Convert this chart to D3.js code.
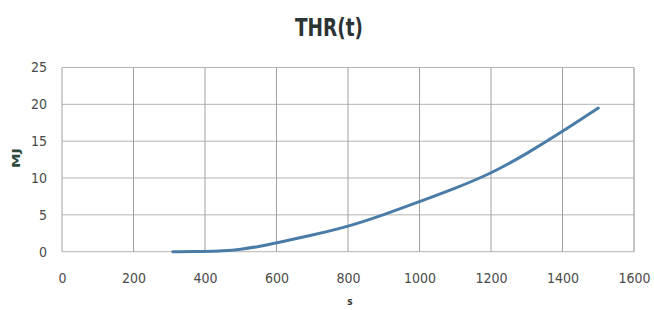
<!DOCTYPE html>
<html><head><meta charset="utf-8">
<script src="https://cdn.jsdelivr.net/npm/d3@7"></script>
<style>body{margin:0;background:#fff}svg{display:block}</style>
</head><body>
<svg id="c" width="654" height="310"></svg>
<script>
const timeS = [310, 400, 450, 500, 550, 600, 700, 800, 900, 1000, 1100, 1200, 1300, 1400, 1500];
const thrMJ = [0, 0.03, 0.1, 0.3, 0.7, 1.2, 2.25, 3.4, 5.0, 6.8, 8.6, 10.6, 13.3, 16.3, 19.5];
const xTicks = [0, 200, 400, 600, 800, 1000, 1200, 1400, 1600];
const yTicks = [0, 5, 10, 15, 20, 25];

const svg = d3.select("#c");
const m = {l: 62, r: 634, t: 67.5, b: 251.7};
const x = d3.scaleLinear().domain([0, 1600]).range([m.l, m.r]);
const y = d3.scaleLinear().domain([0, 25]).range([m.b, m.t]);
const font = "'DejaVu Sans Condensed','DejaVu Sans',sans-serif";

svg.append("g").selectAll("line").data(yTicks).join("line")
  .attr("x1", m.l).attr("x2", m.r)
  .attr("y1", d => y(d)).attr("y2", d => y(d))
  .attr("stroke", "#b4b4b4").attr("stroke-width", 1);
svg.append("g").selectAll("line").data(xTicks).join("line")
  .attr("x1", d => x(d)).attr("x2", d => x(d))
  .attr("y1", m.t).attr("y2", m.b)
  .attr("stroke", d => d === 1600 ? "#8a8a8a" : "#a0a0a0").attr("stroke-width", 1);

const yAxis = d3.axisLeft(y).tickValues(yTicks).tickFormat(d3.format("d")).tickSize(0).tickPadding(15);
const gy = svg.append("g").attr("transform", `translate(${m.l},0)`).call(yAxis);
gy.select(".domain").remove();
gy.selectAll("text").attr("font-family", font).attr("font-stretch", "condensed").attr("font-size", 14).attr("fill", "#4a4a4a");

const xAxis = d3.axisBottom(x).tickValues(xTicks).tickFormat(d3.format("d")).tickSize(0).tickPadding(21);
const gx = svg.append("g").attr("transform", `translate(0,${m.b})`).call(xAxis);
gx.select(".domain").remove();
gx.selectAll("text").attr("font-family", font).attr("font-stretch", "condensed").attr("font-size", 14).attr("fill", "#4a4a4a");

const line = d3.line().x((d, i) => x(timeS[i])).y(d => y(d)).curve(d3.curveBasis);
svg.append("path").datum(thrMJ).attr("d", line)
  .attr("fill", "none").attr("stroke", "#4a7ca8").attr("stroke-width", 3)
  .attr("stroke-linecap", "round");

svg.append("text").attr("x", 329).attr("y", 36).attr("text-anchor", "middle")
  .attr("font-family", font).attr("font-stretch", "condensed").attr("font-weight", "bold").attr("font-size", 25)
  .attr("textLength", 68).attr("lengthAdjust", "spacingAndGlyphs")
  .attr("fill", "#2b3335").text("THR(t)");
svg.append("text").attr("transform", "translate(20,158) rotate(-90)").attr("text-anchor", "middle")
  .attr("font-family", font).attr("font-stretch", "condensed").attr("font-weight", "bold").attr("font-size", 10)
  .attr("textLength", 20).attr("lengthAdjust", "spacingAndGlyphs")
  .attr("fill", "#2d4a3c").text("MJ");
svg.append("text").attr("x", 350).attr("y", 305).attr("text-anchor", "middle")
  .attr("font-family", font).attr("font-weight", "bold").attr("font-size", 10)
  .attr("fill", "#333").text("s");
</script>
</body></html>
